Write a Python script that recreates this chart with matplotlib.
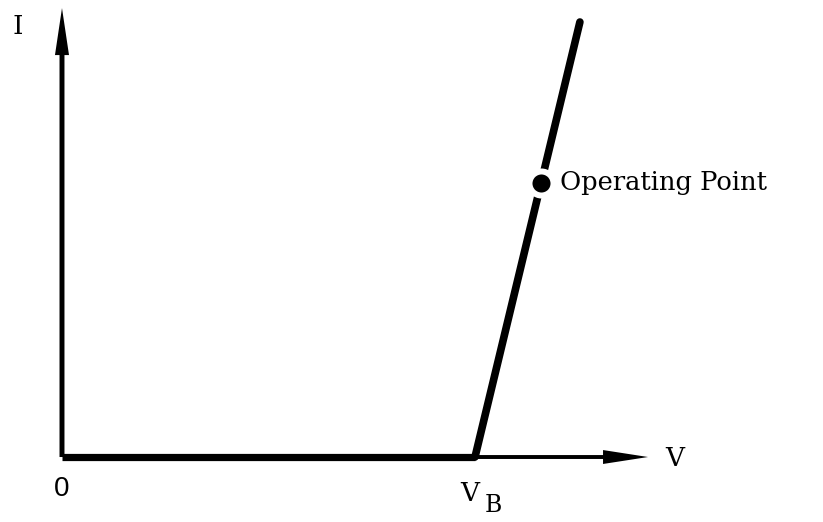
import matplotlib.pyplot as plt
import numpy as np

# kennkurve: 0 bis V_B flach, danach steil nach oben
v_knick = [0.0, 1.0, 1.254]
i_knick = [0.0, 0.0, 1.0]
v_op = 1.160
i_op = 0.630
v_pfeil = 1.419   # spitze der V-achse
i_pfeil = 1.032   # spitze der I-achse

fig = plt.figure(figsize=(8.23, 5.22), dpi=100)
ax = fig.add_axes([0, 0, 1, 1])
ax.set_xlim(-0.1501, 1.8426)
ax.set_ylim(-0.1494, 1.0506)
ax.axis('off')

# achsen mit pfeilen
ax.arrow(0.0, 0.0, 0.0, i_pfeil, width=0.012, head_width=0.034,
         head_length=0.108, length_includes_head=True, color='black', lw=0)
ax.arrow(v_knick[1], 0.0, v_pfeil - v_knick[1], 0.0, width=0.009,
         head_width=0.032, head_length=0.109, length_includes_head=True,
         color='black', lw=0)

ax.plot(v_knick[:2], i_knick[:2], color='black', lw=5.2, solid_capstyle='butt')
ax.plot(v_knick[1:], i_knick[1:], color='black', lw=5.5, solid_capstyle='round')
ax.plot([v_op], [i_op], 'o', ms=17.3, color='black', mec='white', mew=4.3)

fs = 'DejaVu Serif'
ax.text(v_op + 0.045, i_op, 'Operating Point', family=fs, fontsize=18.5,
        va='center', ha='left')
ax.text(-0.107, 0.99, 'I', family=fs, fontsize=19, va='center', ha='center')
ax.text(1.484, -0.003, 'V', family=fs, fontsize=19, va='center', ha='center')
ax.text(-0.002, -0.074, '0', family='Liberation Sans', fontsize=20,
        va='center', ha='center')
ax.text(0.988, -0.083, 'V', family=fs, fontsize=19, va='center', ha='center')
ax.text(1.044, -0.112, 'B', family=fs, fontsize=17, va='center', ha='center')

plt.savefig('out.png', dpi=100)
